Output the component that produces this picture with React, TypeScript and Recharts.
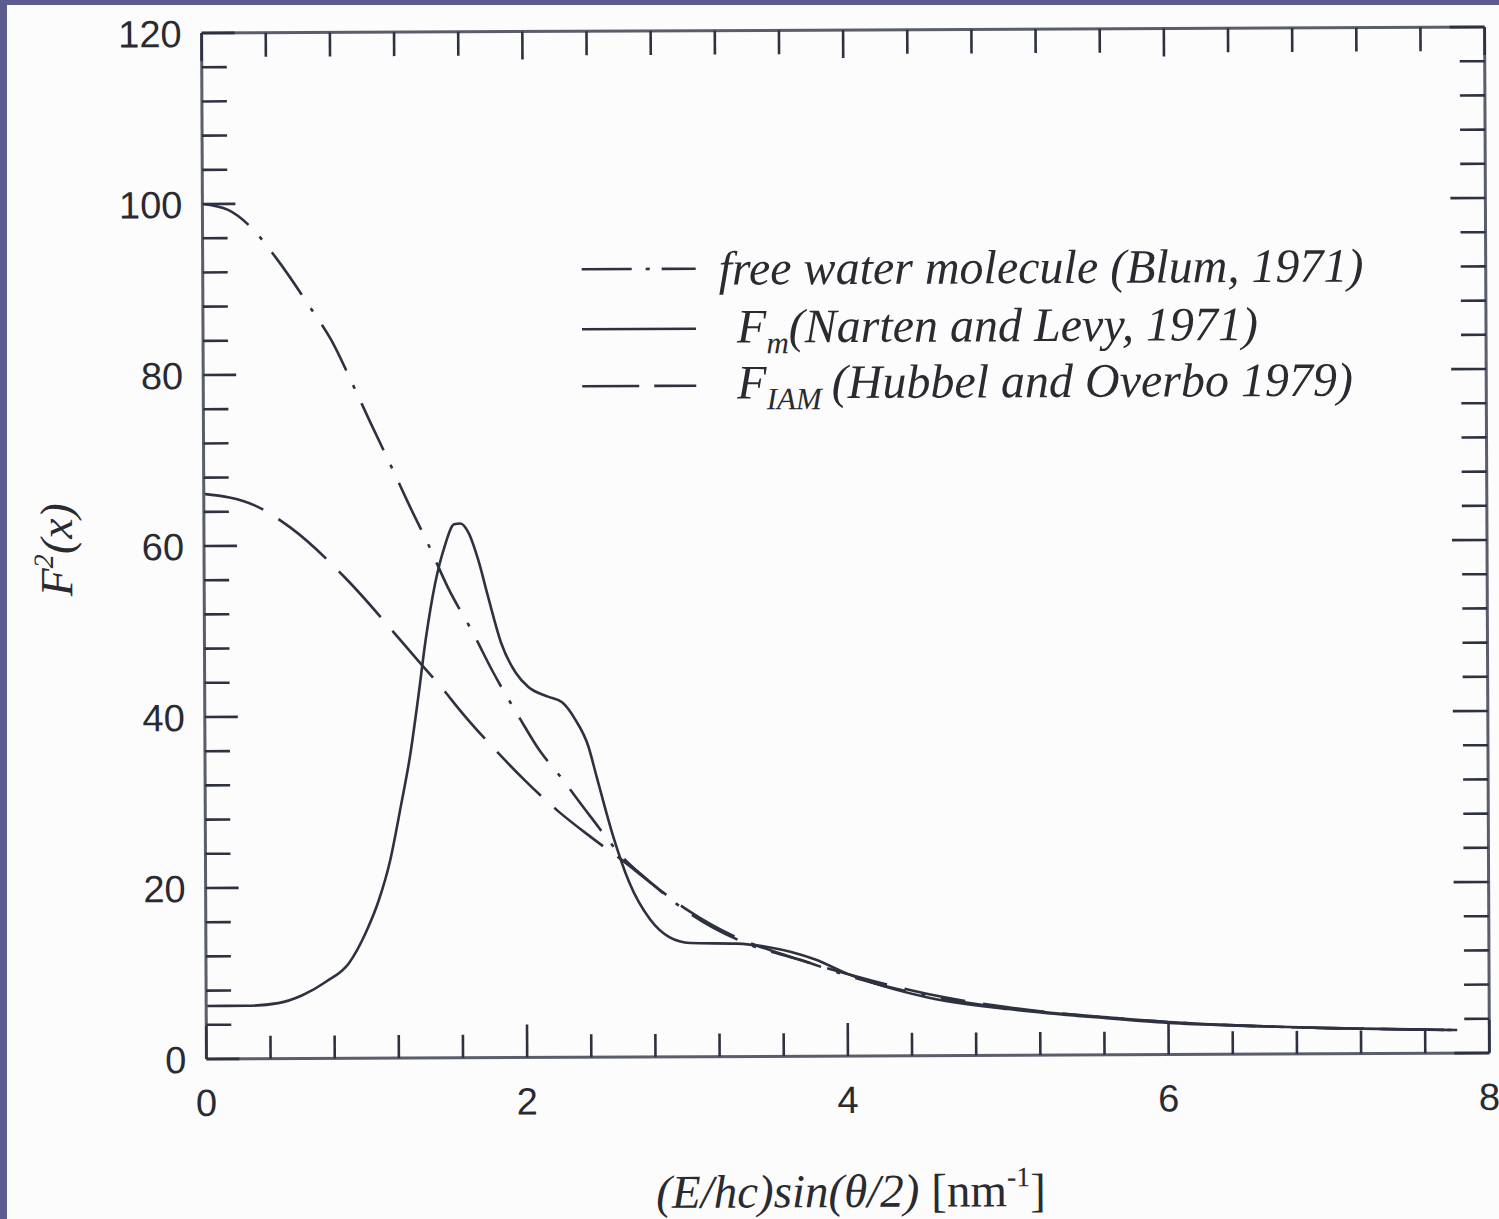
import { Legend, Line, LineChart, XAxis, YAxis } from "recharts";

const xTicks = [0, 0.4, 0.8, 1.2, 1.6, 2, 2.4, 2.8, 3.2, 3.6, 4, 4.4, 4.8, 5.2, 5.6, 6, 6.4, 6.8, 7.2, 7.6, 8];
const xTickLabels = [0, 2, 4, 6, 8];
const yTicks = [
  0, 4, 8, 12, 16, 20, 24, 28, 32, 36, 40, 44, 48, 52, 56, 60, 64, 68, 72, 76, 80, 84, 88, 92, 96, 100, 104, 108,
  112, 116, 120,
];
const yTickLabels = [0, 20, 40, 60, 80, 100, 120];

// free water molecule (Blum, 1971)
const blumX = [0, 0.16, 0.3, 0.46, 0.66, 0.8, 0.94, 1.04, 1.18, 1.28, 1.4, 1.52, 1.68, 1.79, 1.96, 2.09, 2.2, 2.4, 2.6, 2.75, 3.0, 3.4, 3.7, 4.0, 4.5, 5.0, 5.6, 6.0, 6.5, 7.0, 7.8];
const blumY = [100, 99.3, 97.3, 93.6, 88.1, 84, 78.5, 74.4, 68.8, 64.7, 60, 55, 49.5, 45.4, 39.8, 35.8, 33.2, 28.2, 23.4, 20.8, 17.0, 13.0, 11.3, 9.4, 7.0, 5.5, 4.4, 3.8, 3.3, 3.0, 2.7];

// F_m (Narten and Levy, 1971)
const nartenX = [0, 0.25, 0.45, 0.6, 0.75, 0.89, 1.0, 1.08, 1.15, 1.22, 1.28, 1.33, 1.38, 1.44, 1.5, 1.56, 1.6, 1.65, 1.71, 1.77, 1.85, 1.94, 2.02, 2.14, 2.23, 2.31, 2.39, 2.44, 2.54, 2.64, 2.77, 2.89, 3.02, 3.31, 3.5, 3.65, 3.8, 4.0, 4.5, 5.0, 5.6, 6.0, 6.5, 7.0, 7.8];
const nartenY = [6.2, 6.2, 6.5, 7.4, 9.0, 11.1, 14.8, 18.5, 23, 29.5, 35.5, 42, 49, 55.5, 59.8, 62.4, 62.5, 61.4, 58.2, 53.9, 48.5, 45, 43.3, 42.2, 41.5, 39.5, 36.4, 32.9, 26, 20.5, 16.1, 14.0, 13.3, 13.2, 12.8, 12.2, 11.3, 9.6, 6.8, 5.4, 4.3, 3.7, 3.3, 3.0, 2.7];

// F_IAM (Hubbel and Overbo 1979)
const hubbelX = [0, 0.32, 0.54, 0.9, 1.23, 1.33, 1.5, 1.58, 1.85, 2.0, 2.2, 2.4, 2.6, 2.8, 3.0, 3.3, 3.6, 4.0, 4.5, 5.0, 5.6, 6.0, 6.5, 7.0, 7.8];
const hubbelY = [66.1, 64.7, 62.1, 55.8, 48.7, 46.5, 42.8, 40.9, 35.2, 32.3, 28.8, 25.8, 23.0, 20.0, 17.2, 14.0, 11.9, 9.6, 7.2, 5.6, 4.4, 3.8, 3.3, 3.0, 2.7];

const toPoints = (xs: number[], ys: number[]) => xs.map((x, i) => ({ x, y: ys[i] }));

const INK = "#2e3140";
const FRAME = "#5a5e6b";
const TEXT = "#2a2a31";
const SANS = "'Liberation Sans', Arial, Helvetica, sans-serif";
const SERIF = "'Liberation Serif', 'Times New Roman', serif";

const BLUM_DASH = "52 16 4 16";
const HUBBEL_DASH = "62 18";

type Side = "left" | "right" | "top" | "bottom";

// inward ticks on all four sides, longer at the labelled values
const tickLen: Record<Side, [number, number]> = {
  left: [25, 33],
  right: [25, 35],
  bottom: [23, 33],
  top: [24, 28],
};

function FrameTick(props: any) {
  const { x, y, payload, side } = props as { x: number; y: number; payload: { value: number }; side: Side };
  const v = payload.value;
  const horizontal = side === "top" || side === "bottom";
  const major = horizontal ? xTickLabels.includes(v) : yTickLabels.includes(v);
  const len = tickLen[side][major ? 1 : 0];
  let line;
  if (side === "left") line = <line x1={x} x2={x + len} y1={y} y2={y} />;
  else if (side === "right") line = <line x1={x} x2={x - len} y1={y} y2={y} />;
  else if (side === "bottom") line = <line x1={x} x2={x} y1={y} y2={y - len} />;
  else line = <line x1={x} x2={x} y1={y} y2={y + len} />;
  return (
    <g stroke={INK} strokeWidth={2.6}>
      {line}
      {major && side === "left" && (
        <text x={x - 20} y={y + 14} textAnchor="end" fontFamily={SANS} fontSize={38} fill={TEXT} stroke="none">
          {v}
        </text>
      )}
      {major && side === "bottom" && (
        <text x={x} y={y + 57} textAnchor="middle" fontFamily={SANS} fontSize={38} fill={TEXT} stroke="none">
          {v}
        </text>
      )}
    </g>
  );
}

function XTitle() {
  return (
    <text x={848} y={1207} textAnchor="middle" fontFamily={SERIF} fontSize={47} fill={TEXT}>
      <tspan fontStyle="italic">(E/hc)sin(θ/2)</tspan>
      <tspan> [nm</tspan>
      <tspan dy={-20} fontSize={28}>
        -1
      </tspan>
      <tspan dy={20}>]</tspan>
    </text>
  );
}

function YTitle() {
  return (
    <text
      transform="translate(72, 546) rotate(-90)"
      textAnchor="middle"
      fontFamily={SERIF}
      fontStyle="italic"
      fontSize={46}
      fill={TEXT}
    >
      F
      <tspan dy={-19} fontSize={28}>
        2
      </tspan>
      <tspan dy={19}>(x)</tspan>
    </text>
  );
}

const legendRows = [
  { dash: "50 14 4 12", lead: "", sub: "", text: "free water molecule (Blum, 1971)" },
  { dash: undefined, lead: "F", sub: "m", text: "(Narten and Levy, 1971)" },
  { dash: "57 15", lead: "F", sub: "IAM", text: "(Hubbel and Overbo 1979)" },
];

function LegendBox() {
  return (
    <svg width={860} height={210} style={{ overflow: "visible" }}>
      {legendRows.map((row, i) => {
        const lineY = [38, 98, 155][i];
        const base = [54, 112, 168][i];
        return (
          <g key={i}>
            <line x1={13} x2={127} y1={lineY} y2={lineY} stroke={INK} strokeWidth={2.6} strokeDasharray={row.dash} />
            {row.lead ? (
              <text x={168} y={base} fontFamily={SERIF} fontStyle="italic" fontSize={48} fill={TEXT}>
                {row.lead}
                <tspan dy={11} fontSize={31}>
                  {row.sub}
                </tspan>
                <tspan dy={-11} dx={row.sub.length > 1 ? 10 : 0}>
                  {row.text}
                </tspan>
              </text>
            ) : (
              <text x={150} y={base} fontFamily={SERIF} fontStyle="italic" fontSize={48} fill={TEXT}>
                {row.text}
              </text>
            )}
          </g>
        );
      })}
    </svg>
  );
}

export default function App() {
  const axisLine = { stroke: FRAME, strokeWidth: 3 };
  return (
    <div
      style={{
        position: "absolute",
        left: 0,
        top: 0,
        width: 1499,
        height: 1219,
        background: "#5b5b90",
        overflow: "hidden",
      }}
    >
      <div style={{ position: "absolute", left: 7, top: 5, right: 0, bottom: 0, background: "#fcfcfc" }} />
      <div
        style={{
          position: "absolute",
          left: 0,
          top: 0,
          transform: "rotate(-0.27deg)",
          transformOrigin: "846px 543px",
        }}
      >
        <LineChart width={1499} height={1219} margin={{ top: 29, right: 11, bottom: 0, left: 0 }}>
          <XAxis
            xAxisId="x"
            type="number"
            dataKey="x"
            domain={[0, 8]}
            allowDataOverflow
            ticks={xTicks}
            interval={0}
            height={163}
            tickSize={0}
            tickMargin={0}
            tick={<FrameTick side="bottom" />}
            axisLine={axisLine}
            label={{ content: () => <XTitle /> }}
          />
          <XAxis
            xAxisId="top"
            orientation="top"
            type="number"
            dataKey="x"
            domain={[0, 8]}
            allowDataOverflow
            ticks={xTicks}
            interval={0}
            height={1}
            tickSize={0}
            tickMargin={0}
            tick={<FrameTick side="top" />}
            axisLine={axisLine}
          />
          <YAxis
            yAxisId="y"
            type="number"
            domain={[0, 120]}
            allowDataOverflow
            ticks={yTicks}
            interval={0}
            width={204}
            tickSize={0}
            tickMargin={0}
            tick={<FrameTick side="left" />}
            axisLine={axisLine}
            label={{ content: () => <YTitle /> }}
          />
          <YAxis
            yAxisId="right"
            orientation="right"
            type="number"
            domain={[0, 120]}
            allowDataOverflow
            ticks={yTicks}
            interval={0}
            width={1}
            tickSize={0}
            tickMargin={0}
            tick={<FrameTick side="right" />}
            axisLine={axisLine}
          />
          <Legend
            layout="vertical"
            align="center"
            verticalAlign="middle"
            wrapperStyle={{ left: 570, top: 230, width: 860, height: 210 }}
            content={() => <LegendBox />}
          />
          <Line
            xAxisId="x"
            yAxisId="y"
            name="free water molecule (Blum, 1971)"
            data={toPoints(blumX, blumY)}
            dataKey="y"
            type="monotone"
            stroke={INK}
            strokeWidth={2.6}
            strokeDasharray={BLUM_DASH}
            dot={false}
            activeDot={false}
            isAnimationActive={false}
          />
          <Line
            xAxisId="x"
            yAxisId="y"
            name="Fm (Narten and Levy, 1971)"
            data={toPoints(nartenX, nartenY)}
            dataKey="y"
            type="monotone"
            stroke={INK}
            strokeWidth={2.6}
            dot={false}
            activeDot={false}
            isAnimationActive={false}
          />
          <Line
            xAxisId="x"
            yAxisId="y"
            name="FIAM (Hubbel and Overbo 1979)"
            data={toPoints(hubbelX, hubbelY)}
            dataKey="y"
            type="monotone"
            stroke={INK}
            strokeWidth={2.6}
            strokeDasharray={HUBBEL_DASH}
            dot={false}
            activeDot={false}
            isAnimationActive={false}
          />
        </LineChart>
      </div>
    </div>
  );
}
